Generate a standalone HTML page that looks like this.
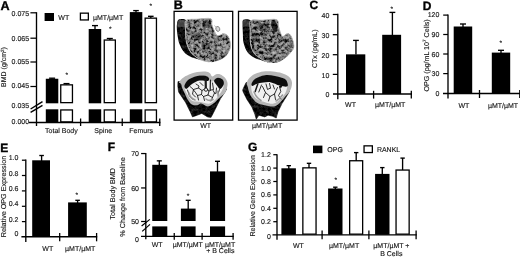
<!DOCTYPE html>
<html lang="en"><head><meta charset="utf-8"><title>Figure</title>
<style>
html,body{margin:0;padding:0;background:#fff;}
svg{display:block;}
svg text{font-family:"Liberation Sans",sans-serif;stroke:#222;stroke-width:0.14px;text-rendering:geometricPrecision;}
svg text.L{stroke:#000;stroke-width:0.35px;}
</style></head><body>
<svg width="520" height="259" viewBox="0 0 520 259">
<defs><filter id="soft" x="0" y="0" width="520" height="259" filterUnits="userSpaceOnUse"><feGaussianBlur stdDeviation="0.38"/></filter></defs>
<rect x="0" y="0" width="520" height="259" fill="#fff"/>
<g filter="url(#soft)">
<rect x="0" y="0" width="520" height="259" fill="#fff"/>
<text x="0.4" y="9.55" font-size="12.6" font-weight="bold" class="L" fill="#000">A</text>
<line x1="36.5" y1="12.2" x2="36.5" y2="126" stroke="#000" stroke-width="1.35"/>
<line x1="30.4" y1="12.8" x2="36.5" y2="12.8" stroke="#000" stroke-width="1.25"/>
<text x="29.1" y="16.3" font-size="7.0" text-anchor="end" fill="#111">0.075</text>
<line x1="30.4" y1="38.2" x2="36.5" y2="38.2" stroke="#000" stroke-width="1.25"/>
<text x="29.1" y="41.0" font-size="7.0" text-anchor="end" fill="#111">0.065</text>
<line x1="30.4" y1="62" x2="36.5" y2="62" stroke="#000" stroke-width="1.25"/>
<text x="29.1" y="63.9" font-size="7.0" text-anchor="end" fill="#111">0.055</text>
<line x1="30.4" y1="86.5" x2="36.5" y2="86.5" stroke="#000" stroke-width="1.25"/>
<text x="29.1" y="88.0" font-size="7.0" text-anchor="end" fill="#111">0.045</text>
<text x="29.1" y="107.9" font-size="7.0" text-anchor="end" fill="#111">0.035</text>
<text x="29.1" y="123.9" font-size="7.0" text-anchor="end" fill="#111">0.000</text>
<line x1="29" y1="122.5" x2="160.4" y2="122.5" stroke="#000" stroke-width="1.3"/>
<line x1="80.6" y1="118.5" x2="80.6" y2="126" stroke="#000" stroke-width="1.3"/>
<line x1="122.25" y1="118.5" x2="122.25" y2="126" stroke="#000" stroke-width="1.3"/>
<line x1="159.75" y1="118.5" x2="159.75" y2="126" stroke="#000" stroke-width="1.3"/>
<line x1="30.6" y1="109" x2="42.5" y2="101.6" stroke="#000" stroke-width="1.4"/>
<line x1="30.6" y1="112.4" x2="42.5" y2="105.3" stroke="#000" stroke-width="1.4"/>
<rect x="45.8" y="78.75" width="12.5" height="24.55" fill="#000"/>
<rect x="45.8" y="109.3" width="12.5" height="13.2" fill="#000"/>
<rect x="60.75" y="84.85" width="11.7" height="17.8" fill="#fff" stroke="#000" stroke-width="1.3"/>
<rect x="60.75" y="109.95" width="11.7" height="11.9" fill="#fff" stroke="#000" stroke-width="1.3"/>
<rect x="88.7" y="29" width="12.5" height="74.3" fill="#000"/>
<rect x="88.7" y="109.3" width="12.5" height="13.2" fill="#000"/>
<rect x="104.25" y="40.05" width="11.1" height="62.6" fill="#fff" stroke="#000" stroke-width="1.3"/>
<rect x="104.25" y="109.95" width="11.1" height="11.9" fill="#fff" stroke="#000" stroke-width="1.3"/>
<rect x="129.8" y="12.1" width="12.5" height="91.2" fill="#000"/>
<rect x="129.8" y="109.3" width="12.5" height="13.2" fill="#000"/>
<rect x="145.15" y="18.15" width="11.3" height="84.5" fill="#fff" stroke="#000" stroke-width="1.3"/>
<rect x="145.15" y="109.95" width="11.3" height="11.9" fill="#fff" stroke="#000" stroke-width="1.3"/>
<line x1="52.1" y1="78.2" x2="52.1" y2="79" stroke="#000" stroke-width="1.35"/>
<line x1="49.1" y1="78.2" x2="55.1" y2="78.2" stroke="#000" stroke-width="1.35"/>
<line x1="66.5" y1="83.6" x2="66.5" y2="84.5" stroke="#000" stroke-width="1.35"/>
<line x1="63.5" y1="83.6" x2="69.5" y2="83.6" stroke="#000" stroke-width="1.35"/>
<line x1="95" y1="25.6" x2="95" y2="29.5" stroke="#000" stroke-width="1.35"/>
<line x1="92" y1="25.6" x2="98" y2="25.6" stroke="#000" stroke-width="1.35"/>
<line x1="109.8" y1="38.5" x2="109.8" y2="40" stroke="#000" stroke-width="1.35"/>
<line x1="106.8" y1="38.5" x2="112.8" y2="38.5" stroke="#000" stroke-width="1.35"/>
<line x1="136" y1="10.6" x2="136" y2="12.5" stroke="#000" stroke-width="1.35"/>
<line x1="133.2" y1="10.6" x2="138.8" y2="10.6" stroke="#000" stroke-width="1.35"/>
<line x1="150.8" y1="16.3" x2="150.8" y2="18" stroke="#000" stroke-width="1.35"/>
<line x1="148.0" y1="16.3" x2="153.60000000000002" y2="16.3" stroke="#000" stroke-width="1.35"/>
<text x="66.8" y="76.9" font-size="6.6" text-anchor="middle" fill="#111">*</text>
<text x="110.3" y="31.299999999999997" font-size="6.6" text-anchor="middle" fill="#111">*</text>
<text x="150.9" y="8.0" font-size="6.6" text-anchor="middle" fill="#111">*</text>
<rect x="44.6" y="13" width="9.4" height="8" fill="#000"/>
<text x="58.3" y="19.8" font-size="7.0" fill="#111">WT</text>
<rect x="80.4" y="13.15" width="7.95" height="6.8" fill="#fff" stroke="#000" stroke-width="1.3"/>
<text x="93" y="20" font-size="7.0" fill="#111">µMT/µMT</text>
<text x="61.4" y="132.5" font-size="7.0" text-anchor="middle" fill="#111">Total Body</text>
<text x="103.25" y="132.5" font-size="7.0" text-anchor="middle" fill="#111">Spine</text>
<text x="141.2" y="132.5" font-size="7.0" text-anchor="middle" fill="#111">Femurs</text>
<text x="6.2" y="67" font-size="7" text-anchor="middle" transform="rotate(-90 6.2 67)" fill="#111">BMD (g/cm<tspan font-size="4.6" dy="-2.4">2</tspan><tspan dy="2.4">)</tspan></text>
<text x="173.7" y="9.0" font-size="12.5" font-weight="bold" class="L" fill="#000">B</text>
<rect x="174.1" y="11.35" width="58.6" height="108.75" fill="#fff" stroke="#000" stroke-width="1.3"/>
<rect x="238.5" y="11.35" width="58.6" height="108.75" fill="#fff" stroke="#000" stroke-width="1.3"/>
<text x="205.6" y="128.4" font-size="7.0" text-anchor="middle" fill="#111">WT</text>
<text x="267.1" y="128.4" font-size="7.0" text-anchor="middle" fill="#111">µMT/µMT</text>
<defs><filter id="tex" x="0" y="0" width="1" height="1" color-interpolation-filters="sRGB">
<feTurbulence type="fractalNoise" baseFrequency="0.34" numOctaves="3" seed="4" result="n"/>
<feColorMatrix in="n" type="matrix" values="1 0 0 0 0  1 0 0 0 0  1 0 0 0 0  0 0 0 0 1" result="g"/>
<feComponentTransfer in="g" result="t"><feFuncR type="table" tableValues="0 0 0.02 0.1 0.3 0.47 0.56 0.63 0.7 0.78 0.85"/><feFuncG type="table" tableValues="0 0 0.02 0.1 0.3 0.47 0.56 0.63 0.7 0.78 0.85"/><feFuncB type="table" tableValues="0 0 0.02 0.1 0.3 0.47 0.56 0.63 0.7 0.78 0.85"/></feComponentTransfer>
<feComposite in="t" in2="SourceAlpha" operator="in"/>
</filter><filter id="tex2" x="0" y="0" width="1" height="1" color-interpolation-filters="sRGB">
<feTurbulence type="fractalNoise" baseFrequency="0.33" numOctaves="3" seed="11" result="n"/>
<feColorMatrix in="n" type="matrix" values="1 0 0 0 0  1 0 0 0 0  1 0 0 0 0  0 0 0 0 1" result="g"/>
<feComponentTransfer in="g" result="t"><feFuncR type="table" tableValues="0 0 0.02 0.08 0.26 0.44 0.54 0.62 0.69 0.77 0.85"/><feFuncG type="table" tableValues="0 0 0.02 0.08 0.26 0.44 0.54 0.62 0.69 0.77 0.85"/><feFuncB type="table" tableValues="0 0 0.02 0.08 0.26 0.44 0.54 0.62 0.69 0.77 0.85"/></feComponentTransfer>
<feComposite in="t" in2="SourceAlpha" operator="in"/>
</filter><filter id="dk" x="0" y="0" width="1" height="1" color-interpolation-filters="sRGB">
<feTurbulence type="fractalNoise" baseFrequency="0.35" numOctaves="3" seed="2" result="n"/>
<feColorMatrix in="n" type="matrix" values="1 0 0 0 0  1 0 0 0 0  1 0 0 0 0  0 0 0 0 1" result="g"/>
<feComponentTransfer in="g" result="t"><feFuncR type="table" tableValues="0 0 0 0 0.02 0.05 0.09 0.14 0.18 0.2 0.2"/><feFuncG type="table" tableValues="0 0 0 0 0.02 0.05 0.09 0.14 0.18 0.2 0.2"/><feFuncB type="table" tableValues="0 0 0 0 0.02 0.05 0.09 0.14 0.18 0.2 0.2"/></feComponentTransfer>
<feComposite in="t" in2="SourceAlpha" operator="in"/>
</filter></defs>
<clipPath id="cTL"><path d="M186.00,20.30 C188.12,18.47 193.87,19.28 198.00,19.00 C202.13,18.72 208.47,17.62 210.80,18.60 C213.13,19.58 211.48,23.03 212.00,24.90 C212.52,26.77 213.28,28.37 213.90,29.80 C214.52,31.23 215.08,32.57 215.70,33.50 C216.32,34.43 216.77,35.18 217.60,35.40 C218.43,35.62 219.77,35.12 220.70,34.80 C221.63,34.48 222.17,33.50 223.20,33.50 C224.23,33.50 225.88,33.97 226.90,34.80 C227.92,35.63 228.68,36.85 229.30,38.50 C229.92,40.15 230.57,42.70 230.60,44.70 C230.63,46.70 230.27,48.62 229.50,50.50 C228.73,52.38 227.42,54.50 226.00,56.00 C224.58,57.50 222.83,58.57 221.00,59.50 C219.17,60.43 216.92,61.18 215.00,61.60 C213.08,62.02 211.92,62.30 209.50,62.00 C207.08,61.70 203.08,60.88 200.50,59.80 C197.92,58.72 195.83,57.05 194.00,55.50 C192.17,53.95 190.78,52.75 189.50,50.50 C188.22,48.25 187.00,45.42 186.30,42.00 C185.60,38.58 185.35,33.62 185.30,30.00 C185.25,26.38 183.88,22.13 186.00,20.30Z"/></clipPath>
<path d="M178.80,19.60 C180.30,18.98 184.92,18.57 186.00,20.30 C187.08,22.03 185.25,26.38 185.30,30.00 C185.35,33.62 185.60,38.58 186.30,42.00 C187.00,45.42 188.22,48.25 189.50,50.50 C190.78,52.75 192.17,53.95 194.00,55.50 C195.83,57.05 199.67,59.12 200.50,59.80 C201.33,60.48 200.75,60.15 199.00,59.60 C197.25,59.05 192.50,57.77 190.00,56.50 C187.50,55.23 185.75,54.08 184.00,52.00 C182.25,49.92 180.53,46.50 179.50,44.00 C178.47,41.50 178.23,39.33 177.80,37.00 C177.37,34.67 177.03,32.17 176.90,30.00 C176.77,27.83 176.68,25.73 177.00,24.00 C177.32,22.27 177.30,20.22 178.80,19.60Z" fill="#222" filter="url(#dk)"/>
<path d="M178.8,19.8 L186,20.5 L185.5,27.5 Q181,26 177.6,27.5 L177.3,23.5 Z" fill="#777" opacity="0.55"/>
<path d="M186.00,20.30 C188.12,18.47 193.87,19.28 198.00,19.00 C202.13,18.72 208.47,17.62 210.80,18.60 C213.13,19.58 211.48,23.03 212.00,24.90 C212.52,26.77 213.28,28.37 213.90,29.80 C214.52,31.23 215.08,32.57 215.70,33.50 C216.32,34.43 216.77,35.18 217.60,35.40 C218.43,35.62 219.77,35.12 220.70,34.80 C221.63,34.48 222.17,33.50 223.20,33.50 C224.23,33.50 225.88,33.97 226.90,34.80 C227.92,35.63 228.68,36.85 229.30,38.50 C229.92,40.15 230.57,42.70 230.60,44.70 C230.63,46.70 230.27,48.62 229.50,50.50 C228.73,52.38 227.42,54.50 226.00,56.00 C224.58,57.50 222.83,58.57 221.00,59.50 C219.17,60.43 216.92,61.18 215.00,61.60 C213.08,62.02 211.92,62.30 209.50,62.00 C207.08,61.70 203.08,60.88 200.50,59.80 C197.92,58.72 195.83,57.05 194.00,55.50 C192.17,53.95 190.78,52.75 189.50,50.50 C188.22,48.25 187.00,45.42 186.30,42.00 C185.60,38.58 185.35,33.62 185.30,30.00 C185.25,26.38 183.88,22.13 186.00,20.30Z" fill="#8e8e8e" filter="url(#tex)"/>
<g clip-path="url(#cTL)" fill="#000"><ellipse cx="206.5" cy="24.5" rx="4.5" ry="3.6" opacity="0.4"/><ellipse cx="197.5" cy="36.5" rx="4" ry="3.6" opacity="0.35"/><ellipse cx="206" cy="45.5" rx="4.5" ry="3" opacity="0.3"/><ellipse cx="221" cy="47" rx="7" ry="6" fill="#fff" opacity="0.12"/></g>
<path d="M229.50,50.50 C229.67,49.53 230.55,46.68 230.50,44.70 C230.45,42.72 229.80,40.22 229.20,38.60 C228.60,36.98 227.90,35.82 226.90,35.00 C225.90,34.18 224.23,33.70 223.20,33.70 C222.17,33.70 221.63,34.68 220.70,35.00 C219.77,35.32 218.45,35.83 217.60,35.60 C216.75,35.37 216.23,34.57 215.60,33.60 C214.97,32.63 214.42,31.25 213.80,29.80 C213.18,28.35 212.42,26.75 211.90,24.90 C211.38,23.05 213.02,19.65 210.70,18.70 C208.38,17.75 202.08,18.90 198.00,19.20 C193.92,19.50 188.28,18.70 186.20,20.50 C184.12,22.30 185.45,26.42 185.50,30.00 C185.55,33.58 185.80,38.58 186.50,42.00 C187.20,45.42 188.42,48.25 189.70,50.50 C190.98,52.75 192.37,53.93 194.20,55.50 C196.03,57.07 198.15,58.82 200.70,59.90 C203.25,60.98 208.03,61.65 209.50,62.00" fill="none" stroke="#b8b8b8" stroke-width="0.9"/>
<path d="M214.5,25.5 Q215.5,27 216.3,27.4" fill="none" stroke="#888" stroke-width="0.6"/><ellipse cx="217.8" cy="28.9" rx="1.9" ry="2.5" fill="#d8d8d8" stroke="#777" stroke-width="0.8" transform="rotate(-20 217.8 28.9)"/>
<path d="M243.40,19.80 C244.72,19.05 249.40,18.80 250.50,20.50 C251.60,22.20 250.03,26.25 250.00,30.00 C249.97,33.75 249.73,39.23 250.30,43.00 C250.87,46.77 251.95,50.18 253.40,52.60 C254.85,55.02 256.90,56.02 259.00,57.50 C261.10,58.98 264.42,60.67 266.00,61.50 C267.58,62.33 269.17,62.67 268.50,62.50 C267.83,62.33 264.42,61.33 262.00,60.50 C259.58,59.67 256.38,58.82 254.00,57.50 C251.62,56.18 249.43,55.02 247.70,52.60 C245.97,50.18 244.42,46.43 243.60,43.00 C242.78,39.57 242.97,35.00 242.80,32.00 C242.63,29.00 242.50,27.03 242.60,25.00 C242.70,22.97 242.08,20.55 243.40,19.80Z" fill="#222" filter="url(#dk)"/>
<path d="M243.4,20 L250.5,20.7 L250.1,27 Q246,25.8 242.8,27 L242.7,23.5 Z" fill="#777" opacity="0.45"/>
<path d="M250.50,20.50 C252.67,18.83 258.65,20.18 263.00,20.00 C267.35,19.82 274.02,18.40 276.60,19.40 C279.18,20.40 277.87,23.85 278.50,26.00 C279.13,28.15 279.78,30.63 280.40,32.30 C281.02,33.97 281.48,35.48 282.20,36.00 C282.92,36.52 283.87,35.80 284.70,35.40 C285.53,35.00 286.27,33.70 287.20,33.60 C288.13,33.50 289.38,33.78 290.30,34.80 C291.22,35.82 292.08,37.83 292.70,39.70 C293.32,41.57 294.03,44.20 294.00,46.00 C293.97,47.80 293.83,48.58 292.50,50.50 C291.17,52.42 288.54,55.50 286.00,57.50 C283.46,59.50 280.17,61.67 277.25,62.50 C274.33,63.33 270.38,62.67 268.50,62.50 C266.62,62.33 267.58,62.33 266.00,61.50 C264.42,60.67 261.10,58.98 259.00,57.50 C256.90,56.02 254.85,55.02 253.40,52.60 C251.95,50.18 250.87,46.77 250.30,43.00 C249.73,39.23 249.97,33.75 250.00,30.00 C250.03,26.25 248.33,22.17 250.50,20.50Z" fill="#868686" filter="url(#tex2)"/>
<clipPath id="cTR"><path d="M250.50,20.50 C252.67,18.83 258.65,20.18 263.00,20.00 C267.35,19.82 274.02,18.40 276.60,19.40 C279.18,20.40 277.87,23.85 278.50,26.00 C279.13,28.15 279.78,30.63 280.40,32.30 C281.02,33.97 281.48,35.48 282.20,36.00 C282.92,36.52 283.87,35.80 284.70,35.40 C285.53,35.00 286.27,33.70 287.20,33.60 C288.13,33.50 289.38,33.78 290.30,34.80 C291.22,35.82 292.08,37.83 292.70,39.70 C293.32,41.57 294.03,44.20 294.00,46.00 C293.97,47.80 293.83,48.58 292.50,50.50 C291.17,52.42 288.54,55.50 286.00,57.50 C283.46,59.50 280.17,61.67 277.25,62.50 C274.33,63.33 270.38,62.67 268.50,62.50 C266.62,62.33 267.58,62.33 266.00,61.50 C264.42,60.67 261.10,58.98 259.00,57.50 C256.90,56.02 254.85,55.02 253.40,52.60 C251.95,50.18 250.87,46.77 250.30,43.00 C249.73,39.23 249.97,33.75 250.00,30.00 C250.03,26.25 248.33,22.17 250.50,20.50Z"/></clipPath>
<g clip-path="url(#cTR)" fill="#000"><ellipse cx="274.3" cy="26" rx="2.8" ry="6.5" opacity="0.7" transform="rotate(-14 274.3 26)"/><ellipse cx="262" cy="27" rx="6" ry="4" opacity="0.3"/><ellipse cx="256" cy="38" rx="3.5" ry="5" opacity="0.25"/><ellipse cx="280" cy="50" rx="8" ry="6" fill="#fff" opacity="0.12"/></g>
<path d="M292.50,50.50 C292.73,49.75 293.88,47.78 293.90,46.00 C293.92,44.22 293.20,41.63 292.60,39.80 C292.00,37.97 291.20,36.00 290.30,35.00 C289.40,34.00 288.13,33.70 287.20,33.80 C286.27,33.90 285.53,35.20 284.70,35.60 C283.87,36.00 282.93,36.75 282.20,36.20 C281.47,35.65 280.93,34.00 280.30,32.30 C279.67,30.60 279.03,28.12 278.40,26.00 C277.77,23.88 279.07,20.57 276.50,19.60 C273.93,18.63 267.30,20.02 263.00,20.20 C258.70,20.38 252.83,19.07 250.70,20.70 C248.57,22.33 250.23,26.28 250.20,30.00 C250.17,33.72 249.93,39.23 250.50,43.00 C251.07,46.77 252.15,50.18 253.60,52.60 C255.05,55.02 257.10,56.02 259.20,57.50 C261.30,58.98 264.07,60.65 266.20,61.50 C268.33,62.35 271.03,62.42 272.00,62.60" fill="none" stroke="#b8b8b8" stroke-width="0.9"/>
<path d="M178,81.5 L177.8,86 L178.6,92 L185.6,102.4 L190.2,111.7 L192.5,116.9 L197.2,115.2 L201.8,113.4 L207.6,116.9 L211,117.5 L214.6,110.5 L220.3,99 L225,92 L226.7,89 L220,85 L200,80 L182,82Z" fill="#151515" stroke="#151515" stroke-width="0.6" stroke-linejoin="round" filter="url(#dk)"/>
<path d="M178.80,83.00 C178.98,82.07 180.40,79.83 182.10,78.40 C183.80,76.97 186.48,75.47 189.00,74.40 C191.52,73.33 194.48,72.48 197.20,72.00 C199.92,71.52 203.18,71.30 205.30,71.50 C207.42,71.70 208.75,72.37 209.90,73.20 C211.05,74.03 211.23,76.30 212.20,76.50 C213.17,76.70 214.35,74.75 215.70,74.40 C217.05,74.05 218.75,73.83 220.30,74.40 C221.85,74.97 223.80,76.37 225.00,77.80 C226.20,79.23 227.22,81.15 227.50,83.00 C227.78,84.85 227.20,87.15 226.70,88.90 C226.20,90.65 225.57,92.15 224.50,93.50 C223.43,94.85 222.15,95.32 220.30,97.00 C218.45,98.68 215.52,102.02 213.40,103.60 C211.28,105.18 209.63,106.50 207.60,106.50 C205.57,106.50 202.93,103.80 201.20,103.60 C199.47,103.40 198.83,105.20 197.20,105.30 C195.57,105.40 193.05,105.25 191.40,104.20 C189.75,103.15 188.33,100.62 187.30,99.00 C186.27,97.38 186.02,96.25 185.20,94.50 C184.38,92.75 183.10,90.25 182.40,88.50 C181.70,86.75 181.60,84.92 181.00,84.00 C180.40,83.08 178.62,83.93 178.80,83.00Z" fill="#b6b6b6"/>
<path d="M185.30,84.20 C185.97,82.55 187.02,80.95 189.00,79.60 C190.98,78.25 194.48,76.72 197.20,76.10 C199.92,75.48 203.37,75.52 205.30,75.90 C207.23,76.28 207.85,77.47 208.80,78.40 C209.75,79.33 210.13,81.12 211.00,81.50 C211.87,81.88 212.83,81.32 214.00,80.70 C215.17,80.08 216.55,77.98 218.00,77.80 C219.45,77.62 221.73,78.53 222.70,79.60 C223.67,80.67 223.83,82.55 223.80,84.20 C223.77,85.85 223.23,87.80 222.50,89.50 C221.77,91.20 220.70,92.60 219.40,94.40 C218.10,96.20 216.47,98.73 214.70,100.30 C212.93,101.87 211.13,103.52 208.80,103.80 C206.47,104.08 203.43,102.48 200.70,102.00 C197.97,101.52 194.50,101.95 192.40,100.90 C190.30,99.85 189.33,97.60 188.10,95.70 C186.87,93.80 185.47,91.42 185.00,89.50 C184.53,87.58 184.63,85.85 185.30,84.20Z" fill="#f0f0f0"/>
<path d="M184.60,85.00 C185.20,83.57 186.50,80.92 188.60,79.40 C190.70,77.88 194.42,76.52 197.20,75.90 C199.98,75.28 203.33,75.32 205.30,75.70 C207.27,76.08 208.58,77.32 209.00,78.20 C209.42,79.08 209.38,80.60 207.80,81.00 C206.22,81.40 202.13,80.10 199.50,80.60 C196.87,81.10 194.08,82.67 192.00,84.00 C189.92,85.33 188.17,87.93 187.00,88.60 C185.83,89.27 185.40,88.60 185.00,88.00 C184.60,87.40 184.00,86.43 184.60,85.00Z" fill="#111"/>
<path d="M214.00,80.70 C214.18,79.43 216.55,77.98 218.00,77.80 C219.45,77.62 221.73,78.53 222.70,79.60 C223.67,80.67 224.20,82.65 223.80,84.20 C223.40,85.75 221.45,88.70 220.30,88.90 C219.15,89.10 217.95,86.77 216.90,85.40 C215.85,84.03 213.82,81.97 214.00,80.70Z" fill="#111"/>
<g stroke="#1a1a1a" stroke-width="0.9" fill="none" stroke-linecap="round" stroke-linejoin="round"><path d="M205.7,79.6 L205.8,88.4" stroke-width="2.2"/><path d="M210.4,80 L210.2,90" stroke-width="1.2"/><path d="M187.5,90 L189.5,96 L193,99.5 M190,86.5 L193.5,89.5 L192.5,94 L195.5,97 M193.5,89.5 L198.5,88 L202,90.5 L201.5,94.5 L197.5,95.5 L195.5,92.5 Z M202,90.5 L205.8,88.4 L209,91 L208,95 L203.5,96.5 L201.5,94.5 M209,91 L212.5,89.5 L214.5,93 L212.5,97.5 L208,95 M196,84 L199,86 L198.5,88 M200,82.5 L203,85.5 M212.5,83 L213.5,89.5 M216.5,88 L216,93.5 L214.5,93 M219.5,89.5 L218,94 M203.5,96.5 L204.5,100.5 M197.5,95.5 L198.5,100 M212.5,97.5 L211,101"/><path d="M189,93 Q190,98 195,100 M206,99 Q209,101.5 213,99.5 M217,91 Q219,93 218,96" stroke="#999" stroke-width="1.6"/><circle cx="206" cy="89.6" r="1.7" fill="#eee"/></g>
<path d="M246.1,82.5 L242.6,90 L243.2,92 L246.7,99 L251.9,107 L254.8,114 L256.3,119.2 L258.9,115.2 L264.7,116.9 L268.1,115.2 L272.8,116.3 L276.2,118 L278,111.7 L282,103.6 L287.8,94.3 L289.5,91 L280,86 L262,82Z" fill="#151515" stroke="#151515" stroke-width="0.6" stroke-linejoin="round" filter="url(#dk)"/>
<path d="M246.70,83.00 C247.00,81.47 248.15,79.33 249.60,77.80 C251.05,76.27 253.08,74.85 255.40,73.80 C257.72,72.75 260.60,71.88 263.50,71.50 C266.40,71.12 269.72,71.22 272.80,71.50 C275.88,71.78 279.30,72.33 282.00,73.20 C284.70,74.07 287.35,75.25 289.00,76.70 C290.65,78.15 291.52,80.07 291.90,81.90 C292.28,83.73 291.78,85.93 291.30,87.70 C290.82,89.47 289.87,91.20 289.00,92.50 C288.13,93.80 287.65,93.75 286.10,95.50 C284.55,97.25 281.73,101.17 279.70,103.00 C277.67,104.83 276.40,106.12 273.90,106.50 C271.40,106.88 267.60,105.98 264.70,105.30 C261.80,104.62 258.75,103.85 256.50,102.40 C254.25,100.95 252.47,98.42 251.20,96.60 C249.93,94.78 249.47,93.10 248.90,91.50 C248.33,89.90 248.17,88.42 247.80,87.00 C247.43,85.58 246.40,84.53 246.70,83.00Z" fill="#b6b6b6"/>
<path d="M251.90,83.00 C252.58,81.42 253.27,80.25 255.40,79.00 C257.53,77.75 261.42,75.98 264.70,75.50 C267.98,75.02 271.82,75.52 275.10,76.10 C278.38,76.68 282.38,77.85 284.40,79.00 C286.42,80.15 286.80,81.33 287.20,83.00 C287.60,84.67 287.25,87.12 286.80,89.00 C286.35,90.88 285.87,92.33 284.50,94.30 C283.13,96.27 280.55,99.23 278.60,100.80 C276.65,102.37 274.93,103.42 272.80,103.70 C270.67,103.98 268.33,103.18 265.80,102.50 C263.27,101.82 259.73,100.95 257.60,99.60 C255.47,98.25 254.05,96.25 253.00,94.40 C251.95,92.55 251.48,90.40 251.30,88.50 C251.12,86.60 251.22,84.58 251.90,83.00Z" fill="#f0f0f0"/>
<path d="M251.60,83.50 C252.08,82.30 253.02,80.17 255.20,78.80 C257.38,77.43 261.38,75.78 264.70,75.30 C268.02,74.82 271.78,75.32 275.10,75.90 C278.42,76.48 282.53,77.62 284.60,78.80 C286.67,79.98 287.10,81.70 287.50,83.00 C287.90,84.30 288.30,86.17 287.00,86.60 C285.70,87.03 282.47,86.33 279.70,85.60 C276.93,84.87 273.10,82.70 270.40,82.20 C267.70,81.70 265.82,82.30 263.50,82.60 C261.18,82.90 258.37,83.43 256.50,84.00 C254.63,84.57 253.12,86.08 252.30,86.00 C251.48,85.92 251.12,84.70 251.60,83.50Z" fill="#111"/>
<g stroke="#1a1a1a" stroke-width="0.9" fill="none" stroke-linecap="round" stroke-linejoin="round"><path d="M257.8,84 L255.2,91.5" stroke-width="1.5"/><path d="M261.5,85 L258.8,92 M262.5,86.5 L265.5,92.5 L263.5,97.5 M265.5,92.5 L270,96.5 L274.5,94 L277.5,87.5 M274.5,94 L275.5,99.5 M270,96.5 L268.5,101 M279.5,86.5 L280.8,91.5 L278.5,95.5 L281,99 M269.5,83.5 L270.5,88 M266,84 L267.5,89.5 L270.5,88 M273,85 L274.5,89"/><path d="M254,92 Q256,97.5 261,100.5 M276,101 Q280,99 282.5,95" stroke="#999" stroke-width="1.5"/><circle cx="280.6" cy="86.6" r="1" fill="#111"/></g>
<text x="309.5" y="9.25" font-size="12" font-weight="bold" class="L" fill="#000">C</text>
<line x1="337.8" y1="13.8" x2="337.8" y2="99.2" stroke="#000" stroke-width="1.35"/>
<line x1="332.8" y1="14.5" x2="337.8" y2="14.5" stroke="#000" stroke-width="1.25"/>
<text x="329.3" y="17.8" font-size="7.0" text-anchor="end" fill="#111">40</text>
<line x1="332.8" y1="34.7" x2="337.8" y2="34.7" stroke="#000" stroke-width="1.25"/>
<text x="329.3" y="37.6" font-size="7.0" text-anchor="end" fill="#111">30</text>
<line x1="332.8" y1="54.7" x2="337.8" y2="54.7" stroke="#000" stroke-width="1.25"/>
<text x="329.3" y="57.8" font-size="7.0" text-anchor="end" fill="#111">20</text>
<line x1="332.8" y1="74.4" x2="337.8" y2="74.4" stroke="#000" stroke-width="1.25"/>
<text x="329.3" y="77.5" font-size="7.0" text-anchor="end" fill="#111">10</text>
<text x="329.3" y="97.1" font-size="7.0" text-anchor="end" fill="#111">0</text>
<line x1="333" y1="94" x2="411.9" y2="94" stroke="#000" stroke-width="1.3"/>
<line x1="373.6" y1="90.8" x2="373.6" y2="98.6" stroke="#000" stroke-width="1.3"/>
<line x1="411.3" y1="90.8" x2="411.3" y2="98.6" stroke="#000" stroke-width="1.3"/>
<rect x="346" y="54.35" width="19.3" height="39.65" fill="#000"/>
<rect x="382.2" y="34.8" width="18.9" height="59.2" fill="#000"/>
<line x1="355.95" y1="40.4" x2="355.95" y2="54.5" stroke="#000" stroke-width="1.35"/>
<line x1="353.05" y1="40.4" x2="358.84999999999997" y2="40.4" stroke="#000" stroke-width="1.35"/>
<line x1="392.4" y1="12.4" x2="392.4" y2="35" stroke="#000" stroke-width="1.35"/>
<line x1="389.5" y1="12.4" x2="395.29999999999995" y2="12.4" stroke="#000" stroke-width="1.35"/>
<text x="391.90000000000003" y="10.7" font-size="6.6" text-anchor="middle" fill="#111">*</text>
<text x="350.5" y="106.6" font-size="7.0" text-anchor="middle" fill="#111">WT</text>
<text x="390.2" y="106.6" font-size="7.0" text-anchor="middle" fill="#111">µMT/µMT</text>
<text x="316.6" y="48.75" font-size="6.95" text-anchor="middle" transform="rotate(-90 316.6 48.75)" fill="#111">CTx (pg/mL)</text>
<text x="422.8" y="9.8" font-size="12" font-weight="bold" class="L" fill="#000">D</text>
<line x1="448" y1="14.5" x2="448" y2="98.6" stroke="#000" stroke-width="1.35"/>
<line x1="443.2" y1="15.1" x2="448" y2="15.1" stroke="#000" stroke-width="1.25"/>
<text x="439.4" y="16.9" font-size="7.0" text-anchor="end" fill="#111">120</text>
<line x1="443.2" y1="34.5" x2="448" y2="34.5" stroke="#000" stroke-width="1.25"/>
<text x="439.4" y="37.0" font-size="7.0" text-anchor="end" fill="#111">90</text>
<line x1="443.2" y1="54" x2="448" y2="54" stroke="#000" stroke-width="1.25"/>
<text x="439.4" y="56.5" font-size="7.0" text-anchor="end" fill="#111">60</text>
<line x1="443.2" y1="73.6" x2="448" y2="73.6" stroke="#000" stroke-width="1.25"/>
<text x="439.4" y="76.1" font-size="7.0" text-anchor="end" fill="#111">30</text>
<text x="439.4" y="95.9" font-size="7.0" text-anchor="end" fill="#111">0</text>
<line x1="443" y1="93.5" x2="520" y2="93.5" stroke="#000" stroke-width="1.3"/>
<line x1="479.5" y1="90" x2="479.5" y2="98" stroke="#000" stroke-width="1.3"/>
<line x1="519.8" y1="90" x2="519.8" y2="98" stroke="#000" stroke-width="1.3"/>
<rect x="453.7" y="26.5" width="18.5" height="67.0" fill="#000"/>
<rect x="491.8" y="52.6" width="18.4" height="40.9" fill="#000"/>
<line x1="463" y1="24" x2="463" y2="27" stroke="#000" stroke-width="1.35"/>
<line x1="460" y1="24" x2="466" y2="24" stroke="#000" stroke-width="1.35"/>
<line x1="501" y1="50.3" x2="501" y2="53" stroke="#000" stroke-width="1.35"/>
<line x1="498" y1="50.3" x2="504" y2="50.3" stroke="#000" stroke-width="1.35"/>
<text x="500.8" y="45.4" font-size="6.6" text-anchor="middle" fill="#111">*</text>
<text x="463.9" y="108.2" font-size="7.0" text-anchor="middle" fill="#111">WT</text>
<text x="503" y="108.2" font-size="7.0" text-anchor="middle" fill="#111">µMT/µMT</text>
<text x="428.8" y="55.35" font-size="7.1" text-anchor="middle" transform="rotate(-90 428.8 55.35)" fill="#111">OPG (pg/mL 10<tspan font-size="4.6" dy="-2.4">7</tspan><tspan dy="2.4"> Cells)</tspan></text>
<text x="0.3" y="151.5" font-size="12" font-weight="bold" class="L" fill="#000">E</text>
<line x1="25.8" y1="159.5" x2="25.8" y2="242.1" stroke="#000" stroke-width="1.35"/>
<line x1="21.900000000000002" y1="160.2" x2="25.8" y2="160.2" stroke="#000" stroke-width="1.25"/>
<text x="18.4" y="159.5" font-size="7.0" text-anchor="end" fill="#111">1.0</text>
<line x1="21.900000000000002" y1="175.5" x2="25.8" y2="175.5" stroke="#000" stroke-width="1.25"/>
<text x="18.4" y="175.8" font-size="7.0" text-anchor="end" fill="#111">0.8</text>
<line x1="21.900000000000002" y1="190.9" x2="25.8" y2="190.9" stroke="#000" stroke-width="1.25"/>
<text x="18.4" y="191.3" font-size="7.0" text-anchor="end" fill="#111">0.6</text>
<line x1="21.900000000000002" y1="206.3" x2="25.8" y2="206.3" stroke="#000" stroke-width="1.25"/>
<text x="18.4" y="206.2" font-size="7.0" text-anchor="end" fill="#111">0.4</text>
<line x1="21.900000000000002" y1="221.6" x2="25.8" y2="221.6" stroke="#000" stroke-width="1.25"/>
<text x="18.4" y="222.2" font-size="7.0" text-anchor="end" fill="#111">0.2</text>
<text x="18.4" y="236.4" font-size="7.0" text-anchor="end" fill="#111">0</text>
<line x1="21.4" y1="236.75" x2="97.2" y2="236.75" stroke="#000" stroke-width="1.3"/>
<line x1="59.7" y1="233" x2="59.7" y2="241.3" stroke="#000" stroke-width="1.3"/>
<line x1="96.6" y1="233" x2="96.6" y2="241.3" stroke="#000" stroke-width="1.3"/>
<rect x="32.2" y="160.3" width="17.8" height="76.45" fill="#000"/>
<rect x="68.1" y="202.4" width="18.7" height="34.35" fill="#000"/>
<line x1="41.6" y1="155.5" x2="41.6" y2="161" stroke="#000" stroke-width="1.35"/>
<line x1="39.300000000000004" y1="155.5" x2="43.9" y2="155.5" stroke="#000" stroke-width="1.35"/>
<line x1="77.6" y1="200.3" x2="77.6" y2="203.5" stroke="#000" stroke-width="1.35"/>
<line x1="75.3" y1="200.3" x2="79.89999999999999" y2="200.3" stroke="#000" stroke-width="1.35"/>
<text x="76.8" y="196.9" font-size="6.6" text-anchor="middle" fill="#111">*</text>
<text x="47.8" y="251.4" font-size="7.0" text-anchor="middle" fill="#111">WT</text>
<text x="80.2" y="251.4" font-size="7.0" text-anchor="middle" fill="#111">µMT/µMT</text>
<text x="6.2" y="196.5" font-size="7.2" text-anchor="middle" transform="rotate(-90 6.2 196.5)" fill="#111">Relative OPG Expression</text>
<text x="107.7" y="151.4" font-size="12" font-weight="bold" class="L" fill="#000">F</text>
<line x1="145.8" y1="153" x2="145.8" y2="239.3" stroke="#000" stroke-width="1.35"/>
<line x1="141.10000000000002" y1="153.55" x2="145.8" y2="153.55" stroke="#000" stroke-width="1.25"/>
<text x="139" y="156.1" font-size="7.0" text-anchor="end" fill="#111">70</text>
<line x1="141.10000000000002" y1="187.95" x2="145.8" y2="187.95" stroke="#000" stroke-width="1.25"/>
<text x="139" y="190.75" font-size="7.0" text-anchor="end" fill="#111">60</text>
<line x1="141.10000000000002" y1="221.5" x2="145.8" y2="221.5" stroke="#000" stroke-width="1.25"/>
<text x="139" y="224.3" font-size="7.0" text-anchor="end" fill="#111">50</text>
<text x="139" y="242.1" font-size="7.0" text-anchor="end" fill="#111">0</text>
<line x1="141" y1="236.3" x2="233.7" y2="236.3" stroke="#000" stroke-width="1.3"/>
<line x1="174.25" y1="233" x2="174.25" y2="239.8" stroke="#000" stroke-width="1.3"/>
<line x1="202.1" y1="233" x2="202.1" y2="239.8" stroke="#000" stroke-width="1.3"/>
<line x1="233.1" y1="233" x2="233.1" y2="239.8" stroke="#000" stroke-width="1.3"/>
<rect x="152.25" y="164.8" width="15.05" height="56.2" fill="#000"/>
<rect x="152.25" y="226.4" width="15.05" height="9.9" fill="#000"/>
<rect x="180.9" y="208.6" width="14.7" height="12.4" fill="#000"/>
<rect x="180.9" y="226.4" width="14.7" height="9.9" fill="#000"/>
<rect x="210" y="171.4" width="15.1" height="49.6" fill="#000"/>
<rect x="210" y="226.4" width="15.1" height="9.9" fill="#000"/>
<line x1="159.3" y1="160.85" x2="159.3" y2="165.5" stroke="#000" stroke-width="1.35"/>
<line x1="156.8" y1="160.85" x2="161.8" y2="160.85" stroke="#000" stroke-width="1.35"/>
<line x1="188.2" y1="200.3" x2="188.2" y2="209" stroke="#000" stroke-width="1.35"/>
<line x1="185.7" y1="200.3" x2="190.7" y2="200.3" stroke="#000" stroke-width="1.35"/>
<line x1="217.5" y1="161.3" x2="217.5" y2="172" stroke="#000" stroke-width="1.35"/>
<line x1="215.0" y1="161.3" x2="220.0" y2="161.3" stroke="#000" stroke-width="1.35"/>
<text x="188.10000000000002" y="198.1" font-size="6.6" text-anchor="middle" fill="#111">*</text>
<line x1="141.6" y1="226" x2="149.8" y2="219.4" stroke="#000" stroke-width="1.2"/>
<line x1="142.2" y1="231.4" x2="150" y2="224.4" stroke="#000" stroke-width="1.2"/>
<text x="157.15" y="246.6" font-size="7.0" text-anchor="middle" fill="#111">WT</text>
<text x="187.8" y="246.6" font-size="7.0" text-anchor="middle" fill="#111">µMT/µMT</text>
<text x="220.1" y="246.6" font-size="7.0" text-anchor="middle" fill="#111">µMT/µMT</text>
<text x="220.3" y="253.4" font-size="7.0" text-anchor="middle" fill="#111">+ B Cells</text>
<text x="115.1" y="193.75" font-size="7.2" text-anchor="middle" transform="rotate(-90 115.1 193.75)" fill="#111">Total Body BMD</text>
<text x="125" y="196.9" font-size="7.2" text-anchor="middle" transform="rotate(-90 125 196.9)" fill="#111">% Change from Baseline</text>
<text x="247.9" y="150.9" font-size="12" font-weight="bold" class="L" fill="#000">G</text>
<line x1="277" y1="154.2" x2="277" y2="239.8" stroke="#000" stroke-width="1.35"/>
<line x1="273.3" y1="154.7" x2="277" y2="154.7" stroke="#000" stroke-width="1.25"/>
<text x="270.8" y="157.2" font-size="7.0" text-anchor="end" fill="#111">1.2</text>
<line x1="273.3" y1="168.1" x2="277" y2="168.1" stroke="#000" stroke-width="1.25"/>
<text x="270.8" y="170.6" font-size="7.0" text-anchor="end" fill="#111">1.0</text>
<line x1="273.3" y1="181.5" x2="277" y2="181.5" stroke="#000" stroke-width="1.25"/>
<text x="270.8" y="184.0" font-size="7.0" text-anchor="end" fill="#111">0.8</text>
<line x1="273.3" y1="194.9" x2="277" y2="194.9" stroke="#000" stroke-width="1.25"/>
<text x="270.8" y="197.4" font-size="7.0" text-anchor="end" fill="#111">0.6</text>
<line x1="273.3" y1="208.3" x2="277" y2="208.3" stroke="#000" stroke-width="1.25"/>
<text x="270.8" y="210.8" font-size="7.0" text-anchor="end" fill="#111">0.4</text>
<line x1="273.3" y1="221.7" x2="277" y2="221.7" stroke="#000" stroke-width="1.25"/>
<text x="270.8" y="224.2" font-size="7.0" text-anchor="end" fill="#111">0.2</text>
<text x="270.8" y="238.5" font-size="7.0" text-anchor="end" fill="#111">0</text>
<line x1="272.5" y1="234.8" x2="416.7" y2="234.8" stroke="#000" stroke-width="1.3"/>
<line x1="322.1" y1="230.5" x2="322.1" y2="239.3" stroke="#000" stroke-width="1.3"/>
<line x1="368.9" y1="230.5" x2="368.9" y2="239.3" stroke="#000" stroke-width="1.3"/>
<line x1="416.1" y1="230.5" x2="416.1" y2="239.3" stroke="#000" stroke-width="1.3"/>
<rect x="281.4" y="168.3" width="14.5" height="66.5" fill="#000"/>
<rect x="302.85" y="167.85" width="13.2" height="66.3" fill="#fff" stroke="#000" stroke-width="1.3"/>
<rect x="328.1" y="188.5" width="14.4" height="46.3" fill="#000"/>
<rect x="349.65" y="160.75" width="13.0" height="73.4" fill="#fff" stroke="#000" stroke-width="1.3"/>
<rect x="375.1" y="173.9" width="14.4" height="60.9" fill="#000"/>
<rect x="396.05" y="170.05" width="13.1" height="64.1" fill="#fff" stroke="#000" stroke-width="1.3"/>
<line x1="288.8" y1="165.65" x2="288.8" y2="169" stroke="#000" stroke-width="1.35"/>
<line x1="286.6" y1="165.65" x2="291.0" y2="165.65" stroke="#000" stroke-width="1.35"/>
<line x1="309" y1="163.3" x2="309" y2="168" stroke="#000" stroke-width="1.35"/>
<line x1="306.8" y1="163.3" x2="311.2" y2="163.3" stroke="#000" stroke-width="1.35"/>
<line x1="335.3" y1="187.2" x2="335.3" y2="189" stroke="#000" stroke-width="1.35"/>
<line x1="333.1" y1="187.2" x2="337.5" y2="187.2" stroke="#000" stroke-width="1.35"/>
<line x1="356.2" y1="152.6" x2="356.2" y2="161" stroke="#000" stroke-width="1.35"/>
<line x1="354.0" y1="152.6" x2="358.4" y2="152.6" stroke="#000" stroke-width="1.35"/>
<line x1="382.3" y1="167.6" x2="382.3" y2="174.5" stroke="#000" stroke-width="1.35"/>
<line x1="380.1" y1="167.6" x2="384.5" y2="167.6" stroke="#000" stroke-width="1.35"/>
<line x1="402.6" y1="158.1" x2="402.6" y2="170" stroke="#000" stroke-width="1.35"/>
<line x1="400.40000000000003" y1="158.1" x2="404.8" y2="158.1" stroke="#000" stroke-width="1.35"/>
<text x="335.7" y="182.3" font-size="6.6" text-anchor="middle" fill="#111">*</text>
<rect x="313" y="145.6" width="9.4" height="7.6" fill="#000"/>
<text x="327.3" y="152.4" font-size="7.0" fill="#111">OPG</text>
<rect x="364.05" y="145.85" width="8.3" height="6.7" fill="#fff" stroke="#000" stroke-width="1.3"/>
<text x="376.9" y="152.4" font-size="7.0" fill="#111">RANKL</text>
<text x="298.4" y="247.9" font-size="7.0" text-anchor="middle" fill="#111">WT</text>
<text x="344.1" y="247.9" font-size="7.0" text-anchor="middle" fill="#111">µMT/µMT</text>
<text x="391.4" y="247.9" font-size="7.0" text-anchor="middle" fill="#111">µMT/µMT +</text>
<text x="391.3" y="256" font-size="7.0" text-anchor="middle" fill="#111">B Cells</text>
<text x="254.6" y="195.8" font-size="7.06" text-anchor="middle" transform="rotate(-90 254.6 195.8)" fill="#111">Relative Gene Expression</text>
</g>
</svg>
</body></html>
